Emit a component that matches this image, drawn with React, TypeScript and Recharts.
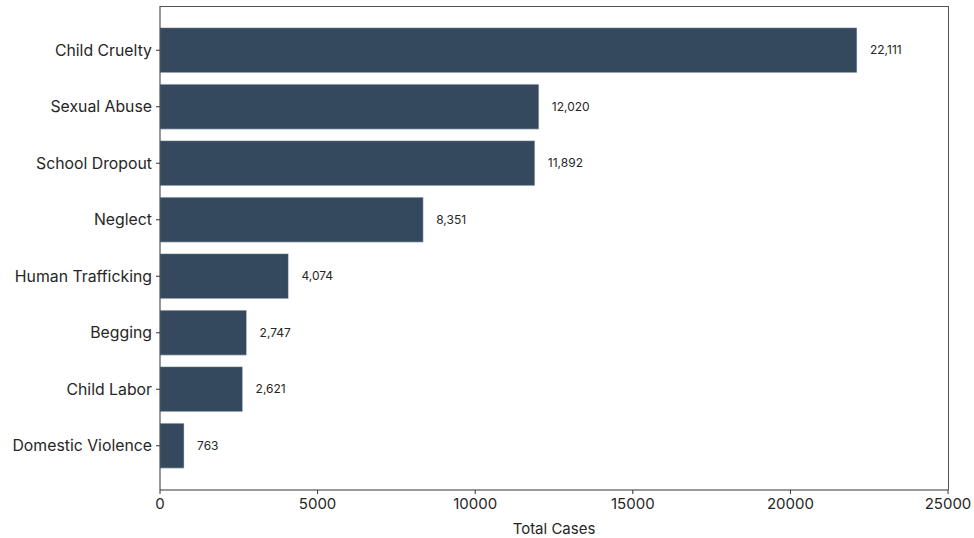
import React from 'react'
import { BarChart, Bar, XAxis, YAxis, LabelList } from 'recharts'

const categories = ['Child Cruelty', 'Sexual Abuse', 'School Dropout', 'Neglect', 'Human Trafficking', 'Begging', 'Child Labor', 'Domestic Violence']
const totalCases = [22111, 12020, 11892, 8351, 4074, 2747, 2621, 763]
const xTicks = [0, 5000, 10000, 15000, 20000, 25000]

const chartData = categories.map((name, i) => ({ name, value: totalCases[i] }))

const FONT = 'Inter, "Noto Sans", sans-serif'
const textColor = '#262626'
const frameColor = '#555555'

const W = 974
const H = 538
const margin = { top: 6, right: 26, bottom: 0, left: 0 }
const yAxisWidth = 160
const xAxisHeight = 48

export default function App() {
  return (
    <div style={{ position: 'absolute', left: 0, top: 0, width: W, height: H, background: '#fff' }}>
      <BarChart
        width={W}
        height={H}
        data={chartData}
        layout="vertical"
        margin={margin}
        barCategoryGap="10%"
        style={{ fontFamily: FONT }}
      >
        <XAxis
          type="number"
          domain={[0, 25000]}
          ticks={xTicks}
          height={xAxisHeight}
          tickSize={4}
          tickMargin={4}
          stroke="#333"
          tick={{ fill: textColor, fontSize: 15 }}
          label={{ value: 'Total Cases', position: 'insideBottom', offset: 4, fill: textColor, fontSize: 15 }}
        />
        <YAxis
          type="category"
          dataKey="name"
          width={yAxisWidth}
          tickSize={4}
          tickMargin={4}
          stroke="#333"
          padding={{ top: 16, bottom: 16 }}
          tick={{ fill: textColor, fontSize: 15.8 }}
        />
        <Bar dataKey="value" fill="#34495e" stroke="#dfe5ea" strokeWidth={0.5} isAnimationActive={false}>
          <LabelList
            dataKey="value"
            position="right"
            offset={13}
            fill={textColor}
            fontSize={12}
            formatter={(v: any) => Number(v).toLocaleString('en-US')}
          />
        </Bar>
      </BarChart>
      {/* top and right edges of the plot frame */}
      <div
        style={{
          position: 'absolute',
          left: margin.left + yAxisWidth - 0.5,
          top: margin.top - 0.5,
          width: W - margin.left - margin.right - yAxisWidth + 1,
          height: H - margin.top - margin.bottom - xAxisHeight,
          borderTop: `1px solid ${frameColor}`,
          borderRight: `1px solid ${frameColor}`,
          boxSizing: 'border-box',
          pointerEvents: 'none',
        }}
      />
    </div>
  )
}
